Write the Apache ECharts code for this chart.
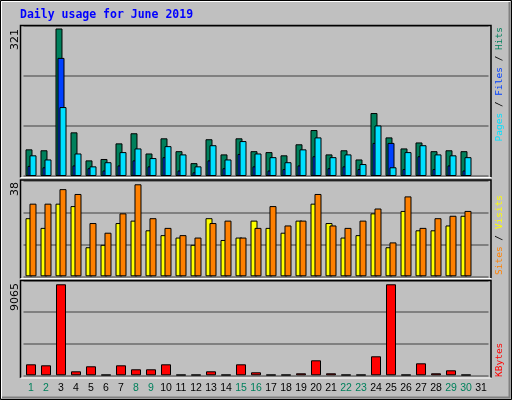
<!DOCTYPE html>
<html><head><meta charset="utf-8">
<script src="https://cdn.jsdelivr.net/npm/echarts@6/dist/echarts.min.js"></script>
<style>html,body{margin:0;padding:0;background:#C0C0C0}#c{width:512px;height:400px}</style>
</head><body><div id="c"></div>
<script>
const days = Array.from({length:31},(_,i)=>String(i+1));
const weekend = [1,2,8,9,15,16,22,23,29,30];
const hits  = [58,56,321,95,34,37,71,93,49,82,54,28,80,47,82,54,52,45,69,100,47,56,36,137,84,60,73,54,56,54,'-'];
const files = [22,19,257,23,17,12,23,34,21,41,12,8,34,17,48,21,12,15,23,43,17,21,15,72,72,15,43,15,23,12,'-'];
const pages = [45,36,150,49,21,30,52,60,39,65,47,21,67,36,76,49,41,30,58,84,41,47,26,110,19,52,67,47,45,41,'-'];
const sites = [24,20,30,29,12,13,22,23,19,17,16,13,24,15,16,23,20,18,23,30,22,16,17,26,12,27,19,19,21,25,'-'];
const visits= [30,30,36,34,22,18,26,38,24,20,17,16,22,23,16,20,29,21,23,34,21,20,23,28,14,33,20,24,25,27,'-'];
const kbytes= [1096,996,9065,398,897,60,996,598,598,1096,60,60,398,60,1096,300,60,60,200,1494,200,60,60,1893,9065,60,1195,200,498,60,'-'];
const maxLabels = ['321','38','9065'];

const chart = echarts.init(document.getElementById('c'));
const gridL = 23.5, gridW = 465;
const bs = c => ({color:c, borderColor:'#000', borderWidth:1});
const split = {show:true, lineStyle:{color:'#808080', width:2}};
function yAx(i,max){return {gridIndex:i,type:'value',min:0,max:max,interval:max/3,axisLabel:{show:false},axisLine:{show:false},axisTick:{show:false},splitLine:split};}
function xAx(i,show){return {gridIndex:i,type:'category',data:days,axisLine:{show:false},axisTick:{show:false},
  axisLabel:{show:show,interval:0,margin:7,fontFamily:'Liberation Sans',fontSize:10.5,
    formatter:v=>weekend.includes(+v)?'{w|'+v+'}':'{d|'+v+'}',
    rich:{w:{color:'#00805C',fontFamily:'Liberation Sans',fontSize:10.5},d:{color:'#000',fontFamily:'Liberation Sans',fontSize:10.5}}}};}
const F='DejaVu Sans Mono';
function vlab(x,y,align,rich,text){return {type:'text',x:x,y:y,rotation:Math.PI/2,style:{text:text,align:align,verticalAlign:'middle',rich:rich,font:'9.5px '+F}};}
chart.setOption({
  animation:false,
  backgroundColor:'#C0C0C0',
  grid:[{left:gridL,width:gridW,top:25.5,height:150.5},{left:gridL,width:gridW,top:180.3,height:96},{left:gridL,width:gridW,top:280.3,height:95}],
  xAxis:[xAx(0,false),xAx(1,false),xAx(2,true)],
  yAxis:[yAx(0,327.5),yAx(1,39.65),yAx(2,9463)],
  series:[
    {type:'bar',xAxisIndex:0,yAxisIndex:0,data:hits,barWidth:7,barGap:'-71.4%',itemStyle:bs('#00805C')},
    {type:'bar',xAxisIndex:0,yAxisIndex:0,data:files,barWidth:7,barGap:'-71.4%',itemStyle:bs('#0040FF')},
    {type:'bar',xAxisIndex:0,yAxisIndex:0,data:pages,barWidth:7,barGap:'-71.4%',itemStyle:bs('#00E0FF')},
    {type:'bar',xAxisIndex:1,yAxisIndex:1,data:sites,barWidth:7,barGap:'-43%',itemStyle:bs('#FFFF00')},
    {type:'bar',xAxisIndex:1,yAxisIndex:1,data:visits,barWidth:7,barGap:'-43%',itemStyle:bs('#FF8000')},
    {type:'bar',xAxisIndex:2,yAxisIndex:2,data:kbytes,barWidth:10,itemStyle:bs('#FF0000')}
  ],
  graphic:[
    {type:'rect',shape:{x:0.5,y:0.5,width:511,height:399},style:{fill:null,stroke:'#000',lineWidth:1},silent:true},
    {type:'polyline',shape:{points:[[1.5,398],[1.5,1.5],[510,1.5]]},style:{stroke:'#fff',lineWidth:1,fill:null}},
    {type:'polyline',shape:{points:[[2,397.5],[509.5,397.5],[509.5,2]]},style:{stroke:'#808080',lineWidth:2,fill:null}},
    ...[[25,177.5],[179.5,278.5],[280,378]].flatMap(([t,b])=>[
      {type:'polyline',z:10,shape:{points:[[20.5,b],[20.5,t+0.5],[491,t+0.5],[491,b]]},style:{stroke:'#000',lineWidth:1.5,fill:null}},
      {type:'line',z:10,shape:{x1:20.5,y1:b,x2:491.5,y2:b},style:{stroke:'#fff',lineWidth:1}}
    ]),
    {type:'text',x:20,y:15,style:{text:'Daily usage for June 2019',font:'bold 11.5px '+F,fill:'#0000FF',verticalAlign:'middle'}},
    {type:'text',x:15,y:29,rotation:Math.PI/2,style:{text:maxLabels[0],font:'11px DejaVu Sans',fill:'#000',align:'right',verticalAlign:'middle'}},
    {type:'text',x:15,y:182,rotation:Math.PI/2,style:{text:maxLabels[1],font:'11px DejaVu Sans',fill:'#000',align:'right',verticalAlign:'middle'}},
    {type:'text',x:15,y:283,rotation:Math.PI/2,style:{text:maxLabels[2],font:'11px DejaVu Sans',fill:'#000',align:'right',verticalAlign:'middle'}},
    vlab(500,27,'right',{p:{fill:'#00E0FF',font:'9.5px '+F},k:{fill:'#000',font:'9.5px '+F},f:{fill:'#0040FF',font:'9.5px '+F},h:{fill:'#00805C',font:'9.5px '+F}},'{p|Pages}{k| / }{f|Files}{k| / }{h|Hits}'),
    vlab(500,275,'left',{s:{fill:'#FF8000',font:'9.5px '+F},k:{fill:'#000',font:'9.5px '+F},v:{fill:'#FFFF00',font:'9.5px '+F}},'{s|Sites}{k| / }{v|Visits}'),
    vlab(500,377,'left',{r:{fill:'#FF0000',font:'9.5px '+F}},'{r|KBytes}')
  ]
});
</script></body></html>
